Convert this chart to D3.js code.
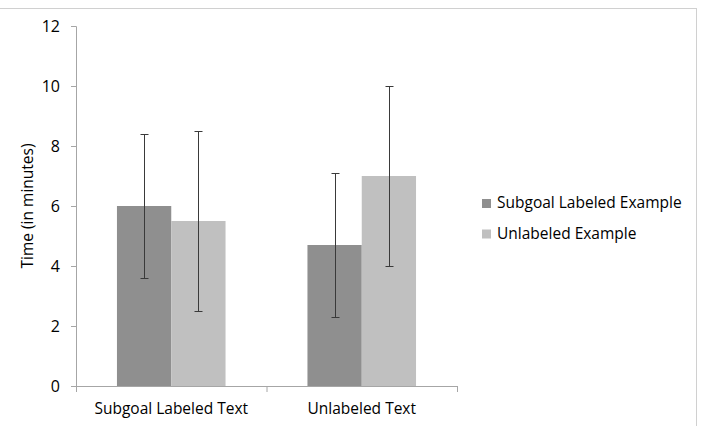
<!DOCTYPE html>
<html lang="en">
<head>
<meta charset="UTF-8">
<script src="https://d3js.org/d3.v7.min.js"></script>
<style>
  body { margin: 0; background: #fff; }
  svg text { font-family: "Open Sans", "Noto Sans", sans-serif; fill: #000; }
</style>
</head>
<body>
<div id="plot"></div>
<script>
// data
const categories = ["Subgoal Labeled Text", "Unlabeled Text"];
const seriesNames = ["Subgoal Labeled Example", "Unlabeled Example"];
const meanValues = [[6.0, 5.5], [4.7, 7.0]];
const errLow = [[3.6, 2.5], [2.3, 4.0]];
const errHigh = [[8.4, 8.5], [7.1, 10.0]];
const yTicks = [0, 2, 4, 6, 8, 10, 12];
const colors = ["#8f8f8f", "#c0c0c0"];

const width = 702, height = 426;
const margin = {top: 26, left: 76, bottom: 40};
const plotW = 381, plotH = 360;

const svg = d3.select("#plot").append("svg")
    .attr("width", width)
    .attr("height", height);

// outer frame
svg.append("rect")
    .attr("x", -2).attr("y", 8.5)
    .attr("width", 698.5).attr("height", 430)
    .attr("fill", "none")
    .attr("stroke", "#d0d0d0");

const g = svg.append("g")
    .attr("transform", `translate(${margin.left}, ${margin.top})`);

// scales
const y = d3.scaleLinear().domain([0, 12]).range([plotH, 0]);
const x0 = d3.scaleBand().domain(categories).range([0, plotW]).padding(0);
const x1 = d3.scaleBand().domain(seriesNames)
    .range([0, x0.bandwidth() * 0.57]).padding(0);
const groupOffset = x0.bandwidth() * 0.215;

// y axis
const yAxis = d3.axisLeft(y).tickValues(yTicks).tickSize(5).tickPadding(11);
const yG = g.append("g").call(yAxis);
yG.select(".domain").attr("stroke", "#a6a6a6").attr("d", `M-5,0.5H0.5V${plotH}`);
yG.selectAll(".tick line").attr("stroke", "#a6a6a6");
yG.selectAll(".tick text").style("font-size", "16px");

// x axis
const xAxisG = g.append("g").attr("transform", `translate(0, ${plotH})`);
xAxisG.append("line")
    .attr("x1", -5).attr("x2", plotW)
    .attr("y1", 0.5).attr("y2", 0.5)
    .attr("stroke", "#a6a6a6");
const boundaries = [0, ...categories.map(c => x0(c) + x0.bandwidth())];
xAxisG.selectAll(".xtick").data(boundaries).join("line")
    .attr("x1", d => d + 0.5).attr("x2", d => d + 0.5)
    .attr("y1", 0).attr("y2", 6)
    .attr("stroke", "#a6a6a6");
xAxisG.selectAll(".xlabel").data(categories).join("text")
    .attr("x", d => x0(d) + x0.bandwidth() / 2)
    .attr("y", 28)
    .attr("text-anchor", "middle")
    .style("font-size", "15.5px")
    .text(d => d);

// bars
const rows = [];
categories.forEach((c, i) => seriesNames.forEach((s, j) => {
  rows.push({cat: c, ser: s, j: j, v: meanValues[i][j], lo: errLow[i][j], hi: errHigh[i][j]});
}));

const bars = g.append("g");
bars.selectAll("rect").data(rows).join("rect")
    .attr("x", d => x0(d.cat) + groupOffset + x1(d.ser))
    .attr("y", d => y(d.v))
    .attr("width", x1.bandwidth())
    .attr("height", d => plotH - y(d.v))
    .attr("fill", d => colors[d.j]);

// error bars
const eb = g.append("g").attr("stroke", "#3a3a3a").attr("stroke-width", 1);
const cx = d => Math.round(x0(d.cat) + groupOffset + x1(d.ser) + x1.bandwidth() / 2) + 0.5;
eb.selectAll(".stem").data(rows).join("line")
    .attr("x1", cx).attr("x2", cx)
    .attr("y1", d => y(d.lo)).attr("y2", d => y(d.hi));
eb.selectAll(".capHi").data(rows).join("line")
    .attr("x1", d => cx(d) - 4).attr("x2", d => cx(d) + 4)
    .attr("y1", d => Math.round(y(d.hi)) + 0.5).attr("y2", d => Math.round(y(d.hi)) + 0.5);
eb.selectAll(".capLo").data(rows).join("line")
    .attr("x1", d => cx(d) - 4).attr("x2", d => cx(d) + 4)
    .attr("y1", d => Math.round(y(d.lo)) + 0.5).attr("y2", d => Math.round(y(d.lo)) + 0.5);

// y label
svg.append("text")
    .attr("transform", "translate(33, 206) rotate(-90)")
    .attr("text-anchor", "middle")
    .style("font-size", "15.5px")
    .text("Time (in minutes)");

// legend
const legend = svg.append("g").attr("transform", "translate(482, 197)");
const li = legend.selectAll("g").data(seriesNames).join("g")
    .attr("transform", (d, i) => `translate(0, ${i * 30.5})`);
li.append("rect")
    .attr("width", 9).attr("height", 9)
    .attr("y", 2)
    .attr("fill", (d, i) => colors[i]);
li.append("text")
    .attr("x", 15).attr("y", 11)
    .style("font-size", "15.5px")
    .text(d => d);
</script>
</body>
</html>
